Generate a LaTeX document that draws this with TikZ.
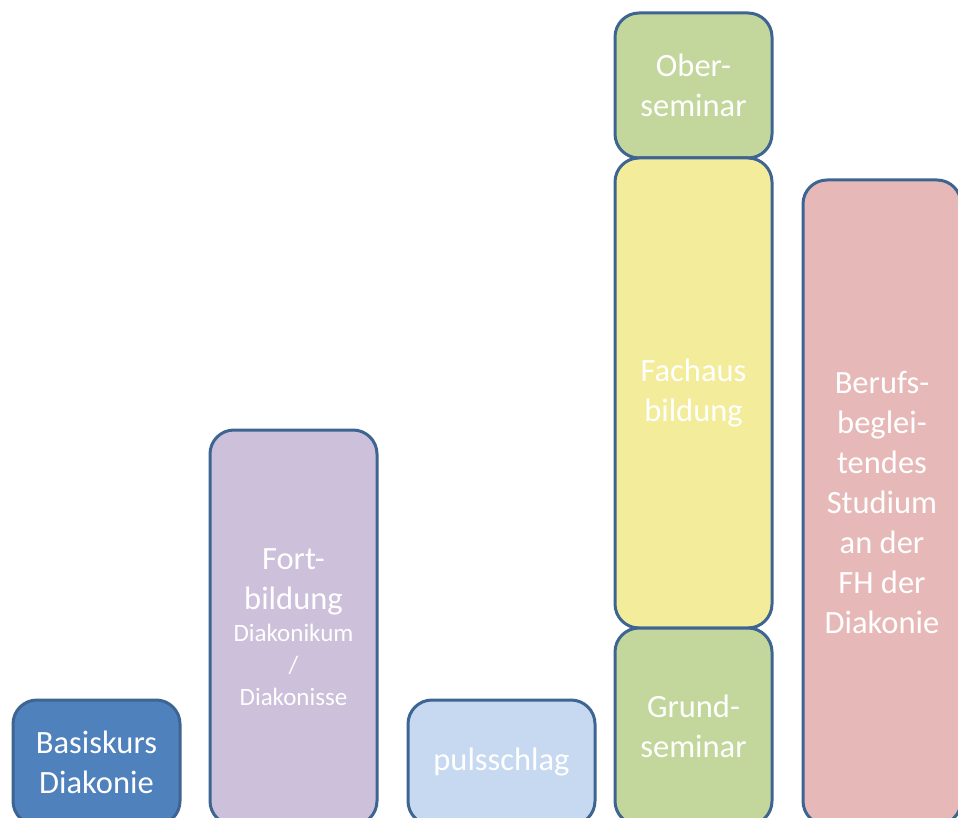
\documentclass[tikz,border=0pt]{standalone}
\usepackage{fontspec}
\setmainfont{Carlito}
\usetikzlibrary{positioning}
\definecolor{rand}{HTML}{3E6491}
\definecolor{basisblau}{HTML}{4F81BD}
\definecolor{lila}{HTML}{CCC0DA}
\definecolor{hellblau}{HTML}{C6D9F1}
\definecolor{gruen}{HTML}{C3D69B}
\definecolor{gelb}{HTML}{F3EC9B}
\definecolor{rosa}{HTML}{E6B9B8}
\newcommand{\kleinschrift}{\fontsize{25}{31}\selectfont}

\begin{document}
\begin{tikzpicture}[x=1pt,y=-1pt,
                    kasten/.style={draw=rand,line width=3pt,rounded corners=24pt,
                    text=white,align=center,outer sep=0pt,inner sep=0pt,
                    font=\fontsize{32.5}{40}\selectfont}]

\useasboundingbox (0,0) rectangle (958,818);
\clip (0,0) rectangle (958,818);

\node[kasten,fill=basisblau,minimum width=167pt,minimum height=125pt] (basis) at(96.5,762.5) {Basiskurs\\Diakonie};
\node[kasten,fill=lila,minimum width=167pt,minimum height=395pt] (fort) at(293.5,627.5) {Fort-\\bildung\\[-8pt]\kleinschrift Diakonikum\\[-8pt]\kleinschrift /\\[-8pt]\kleinschrift Diakonisse};
\node[kasten,fill=hellblau,minimum width=187pt,minimum height=125pt] (puls) at(501.5,762.5) {pulsschlag};

\node[kasten,fill=gruen,minimum width=157pt,minimum height=145pt] (ober) at(693.5,85.5) {Ober-\\seminar};
\node[kasten,fill=gelb,minimum width=157pt,minimum height=470pt,below=0pt of ober] (fach) {Fachaus\\bildung};
\node[kasten,fill=gruen,minimum width=157pt,minimum height=197pt,below=0pt of fach] (grund) {Grund-\\seminar};

\node[kasten,fill=rosa,minimum width=158pt,minimum height=645pt] (beruf) at(882,502.5) {Berufs-\\beglei-\\tendes\\Studium\\an der\\FH der\\Diakonie};

\end{tikzpicture}
\end{document}
